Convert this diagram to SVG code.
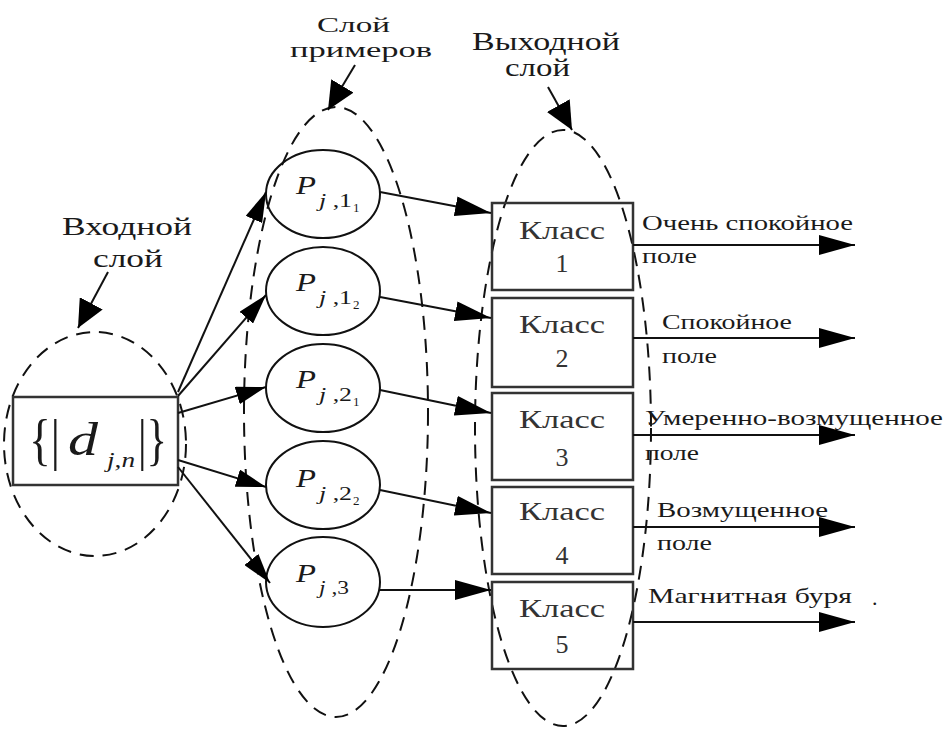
<svg xmlns="http://www.w3.org/2000/svg" width="946" height="729" viewBox="0 0 946 729">
  <style>
    .t { font-family: "Liberation Serif", "Times New Roman", serif; fill: #1a1a1a; }
    .lbl { font-size: 25px; }
    .out { font-size: 22px; }
    .cls { font-size: 26px; fill: #333; }
    .it { font-style: italic; }
    .node { fill: none; stroke: #111; stroke-width: 2; }
    .box { fill: none; stroke: #333; stroke-width: 2.5; }
    .layer { fill: none; stroke: #111; stroke-width: 2; stroke-dasharray: 14 9; }
    .edge { stroke: #111; stroke-width: 2; fill: none; }
  </style>
  <defs>
    <marker id="ah" markerUnits="userSpaceOnUse" markerWidth="36" markerHeight="20" refX="36" refY="10" orient="auto">
      <path d="M0,0 L36,10 L0,20 z" fill="#000"/>
    </marker>
    <marker id="ahs" markerUnits="userSpaceOnUse" markerWidth="30" markerHeight="18" refX="30" refY="9" orient="auto">
      <path d="M0,0 L30,9 L0,18 z" fill="#000"/>
    </marker>
    <marker id="ahp" markerUnits="userSpaceOnUse" markerWidth="28" markerHeight="26" refX="28" refY="13" orient="auto">
      <path d="M0,0 L28,13 L0,26 z" fill="#000"/>
    </marker>
  </defs>
  <rect width="946" height="729" fill="#fff"/>

  <!-- layer outlines -->
  <g id="layers">
    <ellipse class="layer" cx="95" cy="444" rx="91" ry="112"/>
    <ellipse class="layer" cx="336" cy="412" rx="92" ry="305"/>
    <ellipse class="layer" cx="563" cy="428" rx="88" ry="298"/>
  </g>

  <!-- layer captions -->
  <g id="caption-input">
    <text class="t lbl" x="62" y="235" textLength="130" lengthAdjust="spacingAndGlyphs">Входной</text>
    <text class="t lbl" x="93" y="267" textLength="70" lengthAdjust="spacingAndGlyphs">слой</text>
  </g>
  <g id="caption-patterns">
    <text class="t" font-size="22" x="317" y="32" textLength="73" lengthAdjust="spacingAndGlyphs">Слой</text>
    <text class="t" font-size="22" x="290" y="57" textLength="142" lengthAdjust="spacingAndGlyphs">примеров</text>
  </g>
  <g id="caption-output">
    <text class="t lbl" x="472" y="50" textLength="148" lengthAdjust="spacingAndGlyphs">Выходной</text>
    <text class="t lbl" x="505" y="76" textLength="65" lengthAdjust="spacingAndGlyphs">слой</text>
  </g>

  <!-- input node: {|d_{j,n}|} -->
  <g id="input">
    <rect class="box" x="13" y="397" width="165" height="88"/>
    <text class="t" font-size="58" fill="#444" x="29" y="459" textLength="31" lengthAdjust="spacingAndGlyphs">{|</text>
    <text class="t it" font-size="46" x="68" y="455" textLength="30" lengthAdjust="spacingAndGlyphs">d</text>
    <text class="t it" font-size="20" x="107" y="467" textLength="28" lengthAdjust="spacingAndGlyphs">j,n</text>
    <text class="t" font-size="58" fill="#444" x="138" y="459" textLength="29" lengthAdjust="spacingAndGlyphs">|}</text>
  </g>

  <!-- pattern nodes -->
  <g id="p11">
    <ellipse class="node" cx="323" cy="194" rx="57" ry="44"/>
    <text class="t it" font-size="25" x="296" y="194" textLength="20" lengthAdjust="spacingAndGlyphs">P</text>
    <text class="t" font-size="18" x="319" y="207" textLength="33" lengthAdjust="spacingAndGlyphs"><tspan class="it">j</tspan> ,1</text>
    <text class="t" font-size="13" x="353" y="212">1</text>
  </g>
  <g id="p12">
    <ellipse class="node" cx="323" cy="291" rx="57" ry="44"/>
    <text class="t it" font-size="25" x="296" y="291" textLength="20" lengthAdjust="spacingAndGlyphs">P</text>
    <text class="t" font-size="18" x="319" y="304" textLength="33" lengthAdjust="spacingAndGlyphs"><tspan class="it">j</tspan> ,1</text>
    <text class="t" font-size="13" x="353" y="309">2</text>
  </g>
  <g id="p21">
    <ellipse class="node" cx="323" cy="388" rx="57" ry="44"/>
    <text class="t it" font-size="25" x="296" y="388" textLength="20" lengthAdjust="spacingAndGlyphs">P</text>
    <text class="t" font-size="18" x="319" y="401" textLength="33" lengthAdjust="spacingAndGlyphs"><tspan class="it">j</tspan> ,2</text>
    <text class="t" font-size="13" x="353" y="406">1</text>
  </g>
  <g id="p22">
    <ellipse class="node" cx="323" cy="485" rx="57" ry="44"/>
    <text class="t it" font-size="25" x="296" y="487" textLength="20" lengthAdjust="spacingAndGlyphs">P</text>
    <text class="t" font-size="18" x="319" y="500" textLength="33" lengthAdjust="spacingAndGlyphs"><tspan class="it">j</tspan> ,2</text>
    <text class="t" font-size="13" x="353" y="505">2</text>
  </g>
  <g id="p3">
    <ellipse class="node" cx="323" cy="582" rx="57" ry="45"/>
    <text class="t it" font-size="25" x="296" y="582" textLength="20" lengthAdjust="spacingAndGlyphs">P</text>
    <text class="t" font-size="18" x="319" y="594" textLength="30" lengthAdjust="spacingAndGlyphs"><tspan class="it">j</tspan> ,3</text>
  </g>

  <!-- output classes -->
  <g id="class1">
    <rect class="box" x="492" y="203" width="141" height="87"/>
    <text class="t cls" x="519" y="239" textLength="86" lengthAdjust="spacingAndGlyphs">Класс</text>
    <text class="t cls" x="562" y="272" text-anchor="middle">1</text>
  </g>
  <g id="class2">
    <rect class="box" x="492" y="298" width="141" height="89"/>
    <text class="t cls" x="519" y="333" textLength="86" lengthAdjust="spacingAndGlyphs">Класс</text>
    <text class="t cls" x="562" y="367" text-anchor="middle">2</text>
  </g>
  <g id="class3">
    <rect class="box" x="492" y="393" width="141" height="87"/>
    <text class="t cls" x="519" y="428" textLength="86" lengthAdjust="spacingAndGlyphs">Класс</text>
    <text class="t cls" x="562" y="466" text-anchor="middle">3</text>
  </g>
  <g id="class4">
    <rect class="box" x="492" y="487" width="141" height="87"/>
    <text class="t cls" x="519" y="520" textLength="86" lengthAdjust="spacingAndGlyphs">Класс</text>
    <text class="t cls" x="562" y="564" text-anchor="middle">4</text>
  </g>
  <g id="class5">
    <rect class="box" x="492" y="582" width="141" height="87"/>
    <text class="t cls" x="519" y="617" textLength="86" lengthAdjust="spacingAndGlyphs">Класс</text>
    <text class="t cls" x="562" y="653" text-anchor="middle">5</text>
  </g>

  <!-- output labels -->
  <g id="out-labels">
    <text class="t out" x="642" y="230" textLength="211" lengthAdjust="spacingAndGlyphs">Очень спокойное</text>
    <text class="t out" x="642" y="263" textLength="55" lengthAdjust="spacingAndGlyphs">поле</text>
    <text class="t out" x="662" y="329" textLength="130" lengthAdjust="spacingAndGlyphs">Спокойное</text>
    <text class="t out" x="662" y="363" textLength="55" lengthAdjust="spacingAndGlyphs">поле</text>
    <text class="t out" x="645" y="425" textLength="298" lengthAdjust="spacingAndGlyphs">Умеренно-возмущенное</text>
    <text class="t out" x="645" y="460" textLength="54" lengthAdjust="spacingAndGlyphs">поле</text>
    <text class="t out" x="657" y="517" textLength="171" lengthAdjust="spacingAndGlyphs">Возмущенное</text>
    <text class="t out" x="657" y="550" textLength="55" lengthAdjust="spacingAndGlyphs">поле</text>
    <text class="t out" x="648" y="603" textLength="204" lengthAdjust="spacingAndGlyphs">Магнитная буря</text>
    <text class="t out" x="872" y="605">.</text>
  </g>

  <!-- connectors -->
  <g id="connectors">
    <!-- caption pointers -->
    <line class="edge" x1="108" y1="272" x2="78" y2="328" marker-end="url(#ahp)"/>
    <line class="edge" x1="355" y1="65" x2="328" y2="110" marker-end="url(#ahp)"/>
    <line class="edge" x1="548" y1="87" x2="572" y2="130" marker-end="url(#ahp)"/>
    <!-- input to patterns -->
    <line class="edge" x1="178" y1="392" x2="266" y2="192" marker-end="url(#ahs)"/>
    <line class="edge" x1="178" y1="396" x2="266" y2="295" marker-end="url(#ahs)"/>
    <line class="edge" x1="178" y1="413" x2="266" y2="387" marker-end="url(#ahs)"/>
    <line class="edge" x1="178" y1="460" x2="266" y2="487" marker-end="url(#ahs)"/>
    <line class="edge" x1="178" y1="467" x2="270" y2="583" marker-end="url(#ahs)"/>
    <!-- patterns to classes -->
    <line class="edge" x1="380" y1="192" x2="491" y2="213" marker-end="url(#ah)"/>
    <line class="edge" x1="380" y1="297" x2="491" y2="318" marker-end="url(#ah)"/>
    <line class="edge" x1="380" y1="390" x2="491" y2="413" marker-end="url(#ah)"/>
    <line class="edge" x1="380" y1="490" x2="491" y2="513" marker-end="url(#ah)"/>
    <line class="edge" x1="380" y1="590" x2="491" y2="590" marker-end="url(#ah)"/>
    <!-- class outputs -->
    <line class="edge" x1="633" y1="245" x2="855" y2="245" marker-end="url(#ah)"/>
    <line class="edge" x1="633" y1="338" x2="855" y2="338" marker-end="url(#ah)"/>
    <line class="edge" x1="633" y1="435" x2="855" y2="435" marker-end="url(#ah)"/>
    <line class="edge" x1="633" y1="527" x2="855" y2="527" marker-end="url(#ah)"/>
    <line class="edge" x1="633" y1="622" x2="855" y2="622" marker-end="url(#ah)"/>
  </g>
</svg>
